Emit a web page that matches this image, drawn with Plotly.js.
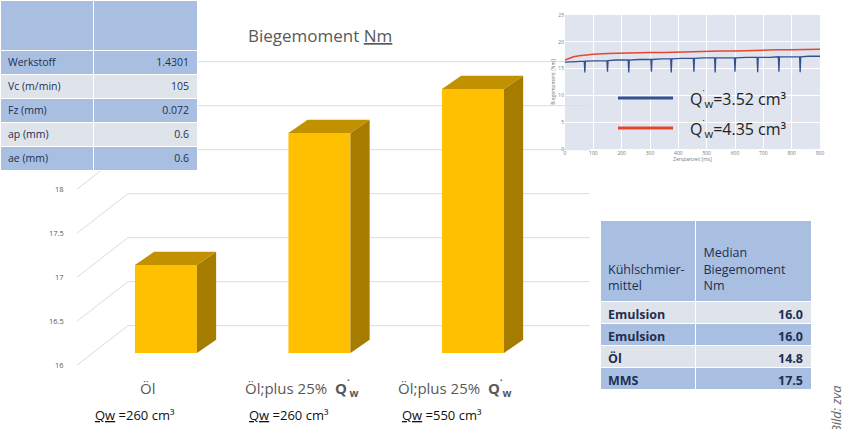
<!DOCTYPE html>
<html><head><meta charset="utf-8">
<script src="https://cdn.plot.ly/plotly-3.0.1.min.js"></script>
<style>html,body{margin:0;padding:0;background:#fff;}#chart{width:842px;height:429px;}</style>
</head><body><div id="chart"></div>
<script>
// ---------------- data ----------------
const categoryIdx = [0, 1, 2];
const categoryLine1 = ['Öl', 'Öl;plus 25%  <b>Q<sup>˙</sup><sub>w</sub></b>', 'Öl;plus 25%  <b>Q<sup>˙</sup><sub>w</sub></b>'];
const categoryLine2 = ['<u>Qw</u> =260 cm³', '<u>Qw</u> =260 cm³', '<u>Qw</u> =550 cm³'];
const barValues = [17.0, 18.5, 19.0];
const axisTicks = [16, 16.5, 17, 17.5, 18, 18.5, 19];
const axisTickLabels = ['16', '16.5', '17', '17.5', '18', '', ''];

const paramNames = ['Werkstoff', 'Vc (m/min)', 'Fz (mm)', 'ap (mm)', 'ae (mm)'];
const paramValues = ['1.4301', '105', '0.072', '0.6', '0.6'];

const coolantHeader = ['\u00a0<br>\u00a0<br>Kühlschmier-<br>mittel', '\u00a0<br>Median<br>Biegemoment<br>Nm'];
const coolants = ['Emulsion', 'Emulsion', 'Öl', 'MMS'];
const medianMoments = ['16.0', '16.0', '14.8', '17.5'];

const insetXTicks = [0, 100, 200, 300, 400, 500, 600, 700, 800, 900];
const insetYTicks = [0, 5, 10, 15, 20, 25];
const blueX = [0, 20, 40, 68, 70, 72, 100, 130, 148, 150, 152, 180, 200, 223, 225, 227, 260, 290, 303, 305, 307, 340, 373, 375, 377, 410, 440, 453, 455, 457, 490, 528, 530, 532, 560, 598, 600, 602, 640, 678, 680, 682, 720, 753, 755, 757, 790, 828, 830, 832, 860, 898, 900];
const blueY = [16.2, 16.3, 16.3, 16.4, 14.3, 16.4, 16.4, 16.5, 16.5, 14.4, 16.5, 16.6, 16.6, 16.6, 14.3, 16.6, 16.7, 16.7, 16.7, 14.4, 16.7, 16.8, 16.8, 14.3, 16.8, 16.9, 16.9, 16.9, 14.4, 16.9, 17.0, 17.0, 14.3, 17.0, 17.0, 17.0, 14.4, 17.0, 17.1, 17.1, 14.3, 17.1, 17.1, 17.2, 14.4, 17.2, 17.2, 17.2, 14.3, 17.2, 17.3, 17.3, 17.3];
const redX = [0, 15, 30, 50, 75, 100, 150, 200, 250, 300, 350, 400, 450, 500, 550, 600, 650, 700, 750, 800, 850, 900];
const redY = [16.6, 16.9, 17.2, 17.4, 17.6, 17.7, 17.8, 17.9, 17.9, 18.0, 18.0, 18.1, 18.2, 18.2, 18.3, 18.3, 18.4, 18.4, 18.5, 18.5, 18.6, 18.6];
const legendTexts = ['Q<sup>˙</sup><sub>w</sub>=3.52 cm³', 'Q<sup>˙</sup><sub>w</sub>=4.35 cm³'];

// ---------------- style ----------------
const W = 842, H = 429;
const px = x => x / W, py = y => 1 - y / H;
const FONT = 'Open Sans, Noto Sans, sans-serif';
const GOLD = '#FFC000', GOLD_TOP = '#C29100', GOLD_SIDE = '#A67C00';
const BLUE = '#a9bfe1', LIGHT = '#dfe3ea', NAVY = '#1f2f52';
const BASE = 16, BAR_W = 0.404, DEPTH_X = 0.125, DEPTH_Y = 0.15;
const FRONT_X = -0.58, BACK_X0 = -0.248, BACK_X1 = 2.76, FRONT_DY = -0.14, BACK_DY = 0.31;
const GRID = '#dcdcdc';

const traces = [];
// front faces
traces.push({type: 'bar', x: categoryIdx, y: barValues.map(v => v - BASE), base: BASE, width: BAR_W,
  marker: {color: GOLD, line: {width: 0}}, hoverinfo: 'skip'});
// side and top faces
categoryIdx.forEach((c, i) => {
  const v = barValues[i], l = c - BAR_W / 2, r = c + BAR_W / 2;
  traces.push({type: 'scatter', mode: 'lines', fill: 'toself', fillcolor: GOLD_SIDE, line: {width: 0, color: GOLD_SIDE},
    x: [r, r + DEPTH_X, r + DEPTH_X, r, r], y: [BASE, BASE + DEPTH_Y, v + DEPTH_Y, v, BASE], hoverinfo: 'skip'});
  traces.push({type: 'scatter', mode: 'lines', fill: 'toself', fillcolor: GOLD_TOP, line: {width: 0, color: GOLD_TOP},
    x: [l, l + DEPTH_X, r + DEPTH_X, r, l], y: [v, v + DEPTH_Y, v + DEPTH_Y, v, v], hoverinfo: 'skip'});
});
// inset lines
traces.push({type: 'scatter', mode: 'lines', x: blueX, y: blueY, xaxis: 'x2', yaxis: 'y2',
  line: {color: '#34508f', width: 1.3}, hoverinfo: 'skip'});
traces.push({type: 'scatter', mode: 'lines', x: redX, y: redY, xaxis: 'x2', yaxis: 'y2',
  line: {color: '#e8452e', width: 1.5}, hoverinfo: 'skip'});
// tables
traces.push({type: 'table', domain: {x: [0, px(197)], y: [py(172), 1]}, columnwidth: [93, 104],
  header: {values: ['', ''], height: 50, fill: {color: BLUE}, line: {color: '#fff', width: 1}},
  cells: {values: [paramNames, paramValues], height: 24, align: ['left', 'right'],
    fill: {color: [[BLUE, LIGHT, BLUE, LIGHT, BLUE], [BLUE, LIGHT, BLUE, LIGHT, BLUE]]},
    line: {color: '#fff', width: 1}, font: {family: FONT, size: 10.5, color: NAVY}}});
traces.push({type: 'table', domain: {x: [px(600), px(812)], y: [py(396), py(220)]}, columnwidth: [96, 116],
  header: {values: coolantHeader, height: 78, align: ['left', 'left'], fill: {color: BLUE},
    line: {color: '#fff', width: 1}, font: {family: FONT, size: 12.5, color: NAVY}},
  cells: {values: [coolants, medianMoments], height: 22, align: ['left', 'right'],
    fill: {color: [[LIGHT, BLUE, LIGHT, BLUE], [LIGHT, BLUE, LIGHT, BLUE]]},
    line: {color: '#fff', width: 1}, font: {family: FONT, size: 12.5, color: NAVY, weight: 'bold'}}});

// shapes
const shapes = [];
axisTicks.forEach(v => {
  shapes.push({type: 'line', xref: 'x', yref: 'y', layer: 'below', x0: BACK_X0, x1: BACK_X1, y0: v + BACK_DY, y1: v + BACK_DY, line: {color: GRID, width: 1}});
  shapes.push({type: 'line', xref: 'x', yref: 'y', layer: 'below', x0: FRONT_X, x1: BACK_X0, y0: v + FRONT_DY, y1: v + BACK_DY, line: {color: GRID, width: 1}});
});
// inset frame & background
shapes.push({type: 'rect', xref: 'paper', yref: 'paper', layer: 'below', x0: px(545), x1: px(832), y0: py(172), y1: py(4), fillcolor: '#fff', line: {width: 0}});
shapes.push({type: 'rect', xref: 'x2 domain', yref: 'y2 domain', layer: 'below', x0: 0, x1: 1, y0: 0, y1: 1, fillcolor: '#dfe4ee', line: {width: 0}});
// inset legend swatches
shapes.push({type: 'line', xref: 'paper', yref: 'paper', x0: px(618), x1: px(673), y0: py(98), y1: py(98), line: {color: '#34508f', width: 3}});
shapes.push({type: 'line', xref: 'paper', yref: 'paper', x0: px(618), x1: px(673), y0: py(128), y1: py(128), line: {color: '#e8452e', width: 3}});

// annotations
const ann = [];
ann.push({text: 'Biegemoment <u>Nm</u>', xref: 'paper', yref: 'paper', x: px(320), y: py(35), yanchor: 'middle', showarrow: false,
  font: {family: FONT, size: 17, color: '#595959'}});
axisTicks.forEach((v, i) => {
  if (!axisTickLabels[i]) return;
  ann.push({text: axisTickLabels[i], xref: 'x', yref: 'y', x: FRONT_X - 0.07, y: v + FRONT_DY, xanchor: 'right', yanchor: 'middle', showarrow: false,
    font: {family: FONT, size: 7.5, color: '#595959'}});
});
categoryIdx.forEach((c, i) => {
  ann.push({text: categoryLine1[i], xref: 'x', yref: 'paper', x: c - 0.12, y: py(388), yanchor: 'middle', showarrow: false,
    font: {family: FONT, size: 15, color: '#595959'}});
  ann.push({text: categoryLine2[i], xref: 'x', yref: 'paper', x: c - 0.2, y: py(415), yanchor: 'middle', showarrow: false,
    font: {family: FONT, size: 13, color: '#111'}});
});
ann.push({text: '<i>Bild: zva</i>', xref: 'paper', yref: 'paper', x: px(836), y: py(409), textangle: -90, xanchor: 'center', yanchor: 'middle', showarrow: false,
  font: {family: FONT, size: 13, color: '#666'}});
legendTexts.forEach((t, i) => {
  ann.push({text: t, xref: 'paper', yref: 'paper', x: px(688), y: py(i === 0 ? 98 : 128), xanchor: 'left', yanchor: 'middle', showarrow: false,
    font: {family: FONT, size: 16, color: '#222'}});
});

const layout = {
  width: W, height: H, margin: {l: 0, r: 0, t: 0, b: 0, pad: 0},
  paper_bgcolor: '#fff', plot_bgcolor: 'rgba(0,0,0,0)', showlegend: false,
  font: {family: FONT},
  xaxis: {domain: [0, 1], range: [-1.081, 4.404], visible: false, fixedrange: true},
  yaxis: {domain: [0, 1], range: [15.136, 20.011], visible: false, fixedrange: true},
  xaxis2: {domain: [px(565), px(820)], anchor: 'y2', range: [0, 900], tickvals: insetXTicks, showgrid: true, gridcolor: '#fff',
    zeroline: false, showline: false, ticks: '', tickfont: {size: 5, color: '#777'},
    title: {text: 'Zerspanzeit [ms]', font: {size: 5, color: '#777'}, standoff: 2}},
  yaxis2: {domain: [py(149), py(15)], anchor: 'x2', range: [0, 25], tickvals: insetYTicks, showgrid: true, gridcolor: '#fff',
    zeroline: false, showline: false, ticks: '', tickfont: {size: 5, color: '#777'},
    title: {text: 'Biegemoment [Nm]', font: {size: 5, color: '#777'}, standoff: 2}},
  shapes: shapes, annotations: ann
};
Plotly.newPlot('chart', traces, layout, {displayModeBar: false, staticPlot: true});
</script></body></html>
